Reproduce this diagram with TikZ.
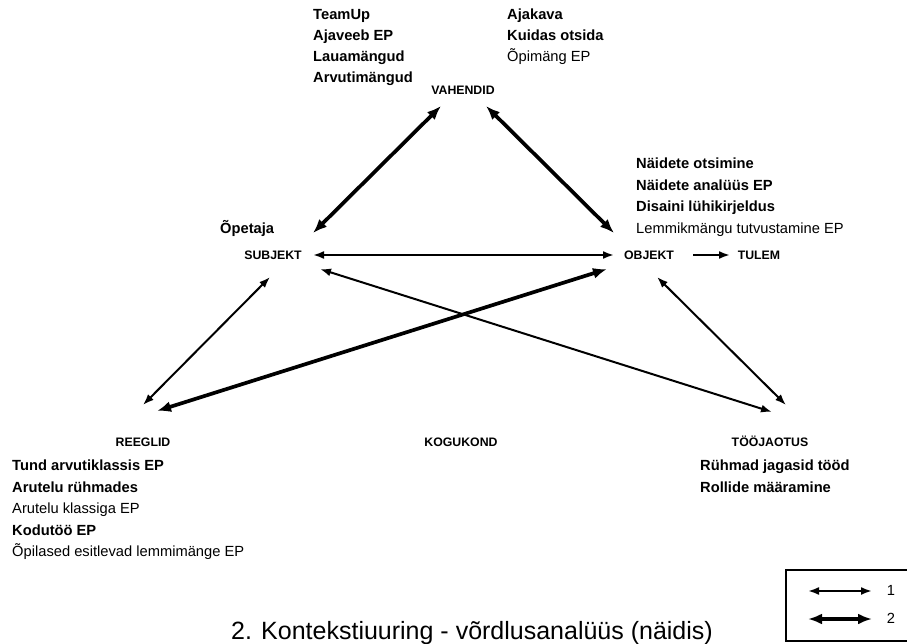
\documentclass[tikz,border=0pt]{standalone}
\usepackage{fontspec}
\setmainfont{Liberation Sans}
\usetikzlibrary{arrows.meta}

\tikzset{
  entry/.style={anchor=base west, inner sep=0pt, font=\fontsize{14.7}{17}\selectfont},
  entryb/.style={entry, font=\fontsize{14.7}{17}\selectfont\bfseries},
  corner/.style={anchor=base, inner sep=0pt, font=\fontsize{12.3}{14}\selectfont\bfseries},
  thinlink/.style={line width=2pt, {Latex[length=11pt,width=8pt]}-{Latex[length=11pt,width=8pt]}},
  thicklink/.style={line width=3.7pt, {Latex[length=14pt,width=11pt]}-{Latex[length=14pt,width=11pt]}},
  onelink/.style={line width=2pt, -{Latex[length=11pt,width=8pt]}},
}

\begin{document}
\begin{tikzpicture}[x=1pt, y=-1pt]
\useasboundingbox (0,0) rectangle (907,644);

% corner labels of the activity triangle
\node[corner] (vahendid) at (463,95) {VAHENDID};
\node[corner] (subjekt) at (273,259) {SUBJEKT};
\node[corner] (objekt) at (649,259) {OBJEKT};
\node[corner] (tulem) at (759,259) {TULEM};
\node[corner] (reeglid) at (143,446) {REEGLID};
\node[corner] (kogukond) at (461,446) {KOGUKOND};
\node[corner] (toojaotus) at (770,446) {TÖÖJAOTUS};

% tools
\node[entryb] (v1) at (313,20) {TeamUp};
\node[entryb] (v2) at (313,41) {Ajaveeb EP};
\node[entryb] (v3) at (313,62) {Lauamängud};
\node[entryb] (v4) at (313,83) {Arvutimängud};
\node[entryb] (v5) at (507,20) {Ajakava};
\node[entryb] (v6) at (507,41) {Kuidas otsida};
\node[entry]  (v7) at (507,62) {Õpimäng EP};

% object
\node[entryb] (o1) at (636,169) {Näidete otsimine};
\node[entryb] (o2) at (636,191) {Näidete analüüs EP};
\node[entryb] (o3) at (636,212) {Disaini lühikirjeldus};
\node[entry]  (o4) at (636,234) {Lemmikmängu tutvustamine EP};

% subject
\node[entryb] (s1) at (220,234) {Õpetaja};

% rules
\node[entryb] (r1) at (12,470) {Tund arvutiklassis EP};
\node[entryb] (r2) at (12,492) {Arutelu rühmades};
\node[entry]  (r3) at (12,513) {Arutelu klassiga EP};
\node[entryb] (r4) at (12,535) {Kodutöö EP};
\node[entry]  (r5) at (12,556) {Õpilased esitlevad lemmimänge EP};

% division of labour
\node[entryb] (t1) at (700,470) {Rühmad jagasid tööd};
\node[entryb] (t2) at (700,492) {Rollide määramine};

% connector end points around the labels
\coordinate (vS) at (441,106);
\coordinate (vO) at (486,106);
\coordinate (sV) at (313,233);
\coordinate (oV) at (614,233);
\coordinate (sO) at (313,255);
\coordinate (oS) at (614,255);
\coordinate (oT) at (693,255);
\coordinate (tO) at (730,255);
\coordinate (sR) at (270,277);
\coordinate (rS) at (143,405);
\coordinate (rO) at (157,411);
\coordinate (oR) at (607,269);
\coordinate (sJ) at (320,269);
\coordinate (jS) at (772,412);
\coordinate (oJ) at (657,277);
\coordinate (jO) at (786,405);

\draw[thicklink] (vS) -- (sV);
\draw[thicklink] (vO) -- (oV);
\draw[thinlink] (sO) -- (oS);
\draw[onelink] (oT) -- (tO);
\draw[thinlink] (sR) -- (rS);
\draw[thicklink] (rO) -- (oR);
\draw[thinlink] (sJ) -- (jS);
\draw[thinlink] (oJ) -- (jO);

% title
\node[anchor=base, inner sep=0pt, font=\fontsize{25}{30}\selectfont] (title) at (472,639)
  {2. Kontekstiuuring - võrdlusanalüüs (näidis)};

% legend
\draw[line width=2pt] (786,570) rectangle (912,641);
\coordinate (l1a) at (808,591);
\coordinate (l1b) at (872,591);
\coordinate (l2a) at (808,619);
\coordinate (l2b) at (872,619);
\draw[thinlink] (l1a) -- (l1b);
\draw[thicklink] (l2a) -- (l2b);
\node[anchor=base, inner sep=0pt, font=\fontsize{14.7}{17}\selectfont] (k1) at (891,595) {1};
\node[anchor=base, inner sep=0pt, font=\fontsize{14.7}{17}\selectfont] (k2) at (891,623) {2};
\end{tikzpicture}
\end{document}
